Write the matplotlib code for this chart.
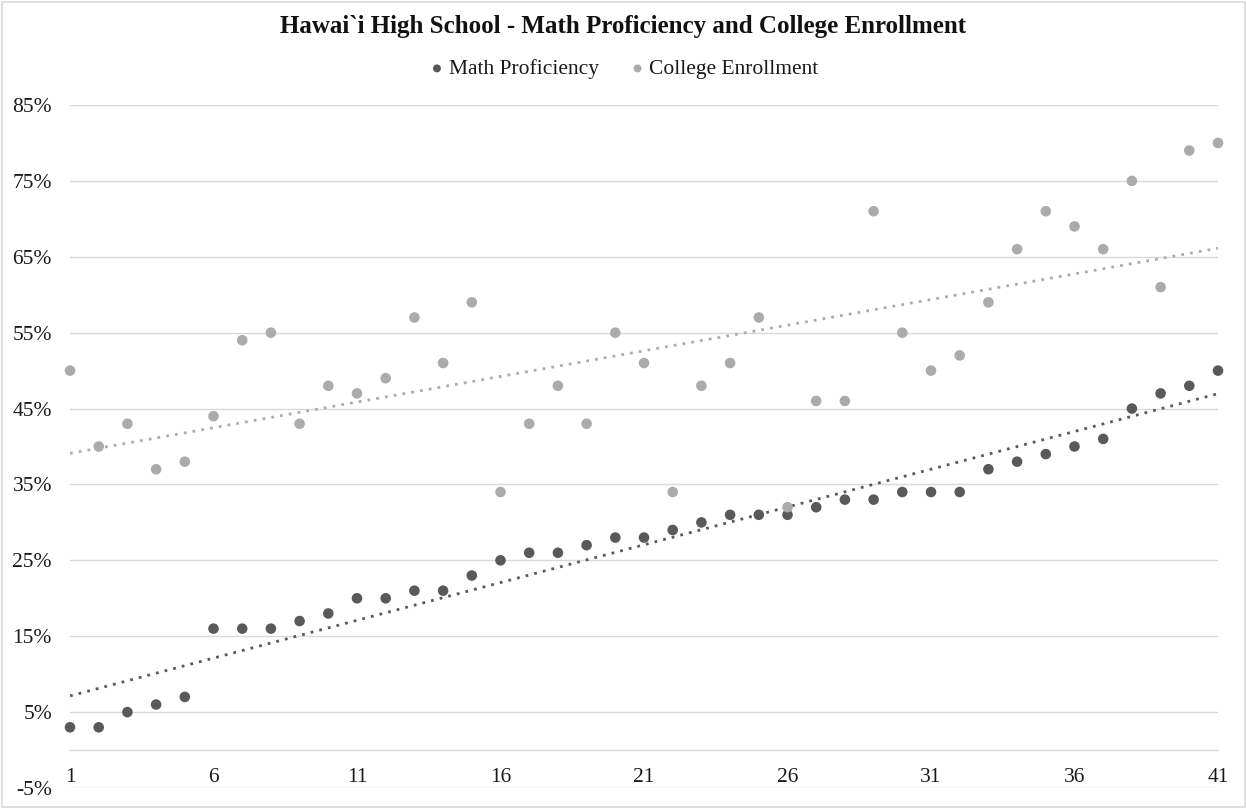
import numpy as np
import matplotlib.pyplot as plt
from matplotlib.patches import Rectangle
from matplotlib.ticker import FuncFormatter

plt.rcParams['font.family'] = ['Liberation Serif', 'DejaVu Serif']

schools = list(range(1, 42))
math_prof = [3, 3, 5, 6, 7, 16, 16, 16, 17, 18, 20, 20, 21, 21, 23, 25, 26, 26, 27, 28,
             28, 29, 30, 31, 31, 31, 32, 33, 33, 34, 34, 34, 37, 38, 39, 40, 41, 45, 47, 48, 50]
college_enr = [50, 40, 43, 37, 38, 44, 54, 55, 43, 48, 47, 49, 57, 51, 59, 34, 43, 48, 43, 55,
               51, 34, 48, 51, 57, 32, 46, 46, 71, 55, 50, 52, 59, 66, 71, 69, 66, 75, 61, 79, 80]
x_ticks = [1, 6, 11, 16, 21, 26, 31, 36, 41]
y_ticks = [-5, 5, 15, 25, 35, 45, 55, 65, 75, 85]

dark = '#595959'
light = '#ABABAB'
grid_col = '#D9D9D9'

fig = plt.figure(figsize=(12.47, 8.09), dpi=100)
ax = fig.add_axes([70 / 1247, 1 - 788 / 809, (1218 - 70) / 1247, (788 - 105) / 809])

x = np.array(schools)
for vals, col, name in [(math_prof, dark, 'Math Proficiency'),
                        (college_enr, light, 'College Enrollment')]:
    vals = np.array(vals)
    ax.scatter(x, vals, s=58, color=col, edgecolors='none', label=name,
               zorder=3, clip_on=False)
    # linear trendline
    k, b = np.polyfit(x, vals, 1)
    ax.plot([x[0], x[-1]], [k * x[0] + b, k * x[-1] + b], color=col,
            linestyle=(0, (1, 2.2)), linewidth=2, zorder=2)

ax.set_xlim(1, 41)
ax.set_ylim(-5, 85)
ax.set_yticks(y_ticks)
ax.yaxis.set_major_formatter(FuncFormatter(lambda v, p: '%d%%' % v))
ax.set_xticks(x_ticks)
ax.grid(axis='y', color=grid_col, linewidth=1)
ax.set_axisbelow(True)

for s in ['top', 'right', 'left']:
    ax.spines[s].set_visible(False)
ax.spines['bottom'].set_position(('data', 0))
ax.spines['bottom'].set_color(grid_col)
ax.spines['bottom'].set_linewidth(1)
ax.tick_params(axis='y', length=0, pad=13, labelsize=15.5, labelcolor='#1a1a1a')
ax.tick_params(axis='x', length=0, pad=13, labelsize=15.5, labelcolor='#1a1a1a')

fig.text(0.5, 1 - 27 / 809, 'Hawai`i High School - Math Proficiency and College Enrollment',
         ha='center', va='center', fontsize=18, fontweight='bold', color='#111111')
fig.legend(loc='center', bbox_to_anchor=(0.5, 1 - 69 / 809), ncol=2, frameon=False,
           fontsize=15.5, handlelength=0.8, handletextpad=0.15, columnspacing=1.4,
           markerscale=0.75, labelcolor='#1a1a1a')

fig.add_artist(Rectangle((0.0015, 0.002), 0.997, 0.996, transform=fig.transFigure,
                         fill=False, edgecolor='#D9D9D9', linewidth=1.2))

fig.savefig('out.png', dpi=100)
